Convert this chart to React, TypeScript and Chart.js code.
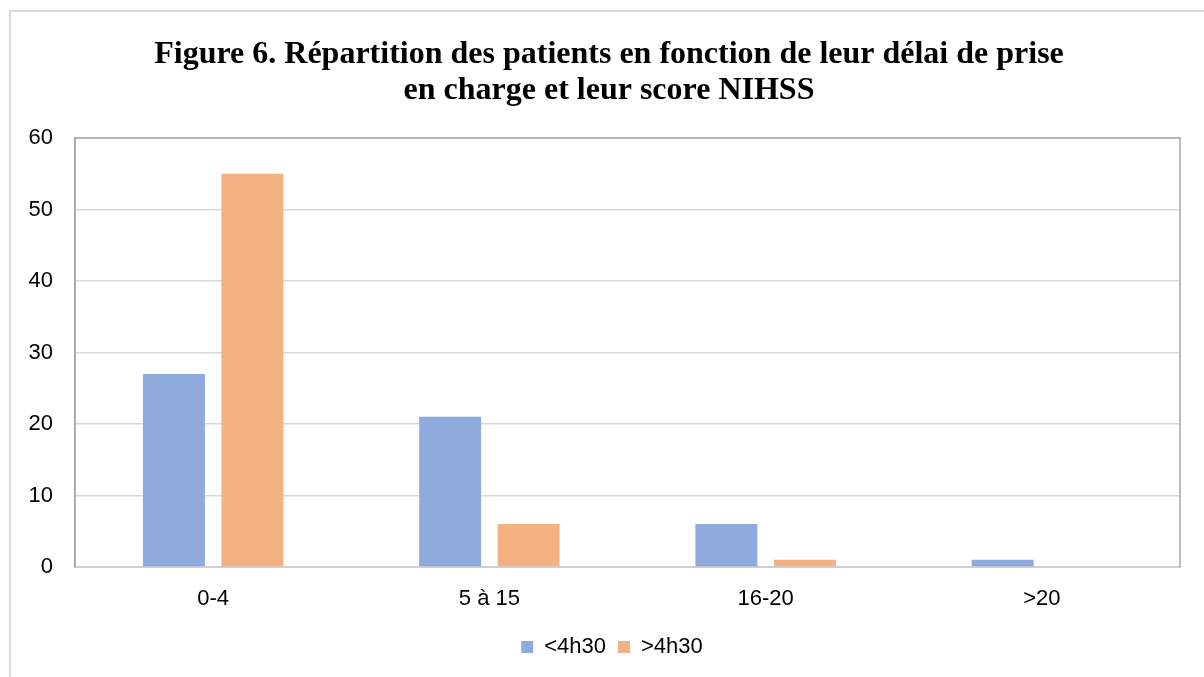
import React, { useEffect, useRef } from "react";
import { Chart, registerables } from "chart.js";

Chart.register(...registerables);

const titleLines = [
  "Figure 6. Répartition des patients en fonction de leur délai de prise",
  "en charge et leur score NIHSS",
];
const categories = ["0-4", "5 à 15", "16-20", ">20"];
const seriesNames = ["<4h30", ">4h30"];
const below4h30 = [27, 21, 6, 1];
const above4h30 = [55, 6, 1, 0];
const yMin = 0;
const yMax = 60;
const yStep = 10;

const frameAndBorder = {
  id: "frameAndBorder",
  afterLayout(chart: any) {
    const lg = chart.legend;
    if (lg) {
      lg.left += 22;
      lg.right += 22;
    }
  },
  beforeDraw(chart: any) {
    const ctx = chart.ctx;
    ctx.save();
    ctx.fillStyle = "#ffffff";
    ctx.fillRect(0, 0, chart.width, chart.height);
    ctx.strokeStyle = "#D9D9D9";
    ctx.lineWidth = 2;
    ctx.strokeRect(10, 11, chart.width + 20, chart.height + 20);
    ctx.restore();
  },
  afterDatasetsDraw(chart: any) {
    const { ctx, chartArea } = chart;
    ctx.save();
    ctx.strokeStyle = "#A6A6A6";
    ctx.lineWidth = 1.5;
    ctx.beginPath();
    ctx.moveTo(chartArea.left, chartArea.top);
    ctx.lineTo(chartArea.right, chartArea.top);
    ctx.lineTo(chartArea.right, chartArea.bottom);
    ctx.moveTo(chartArea.left, chartArea.top);
    ctx.lineTo(chartArea.left, chartArea.bottom);
    ctx.stroke();
    ctx.restore();
  },
  afterDraw(chart: any) {
    const ctx = chart.ctx;
    ctx.save();
    ctx.fillStyle = "#000000";
    ctx.font = "bold 32px 'Liberation Serif', 'Times New Roman', serif";
    ctx.textAlign = "center";
    ctx.textBaseline = "middle";
    titleLines.forEach((line, i) => {
      ctx.fillText(line, 609, 55 + i * 36);
    });
    ctx.restore();
  },
};

export default function App() {
  const ref = useRef<HTMLCanvasElement>(null);
  useEffect(() => {
    if (!ref.current) return;
    const chart = new Chart(ref.current, {
      type: "bar",
      data: {
        labels: categories,
        datasets: [
          {
            label: seriesNames[0],
            data: below4h30,
            backgroundColor: "#8FAADC",
            categoryPercentage: 0.568,
            barPercentage: 0.79,
          },
          {
            label: seriesNames[1],
            data: above4h30,
            backgroundColor: "#F4B183",
            categoryPercentage: 0.568,
            barPercentage: 0.79,
          },
        ],
      },
      options: {
        animation: false,
        responsive: false,
        maintainAspectRatio: false,
        layout: { padding: { left: 0, right: 24, top: 138, bottom: 9 } },
        plugins: {
          title: { display: false },
          legend: {
            display: true,
            position: "bottom",
            labels: {
              boxWidth: 12,
              boxHeight: 12,
              padding: 12,
              color: "#000000",
              font: { family: "'Liberation Sans', Arial, sans-serif", size: 22 },
            },
          },
          tooltip: { enabled: false },
        },
        scales: {
          x: {
            grid: { display: false, drawTicks: false },
            border: { display: true, color: "#D0D0D0", width: 2 },
            ticks: {
              color: "#000000",
              padding: 19,
              font: { family: "'Liberation Sans', Arial, sans-serif", size: 22 },
            },
            afterFit(scale: any) {
              scale.height = 57;
            },
          },
          y: {
            min: yMin,
            max: yMax,
            grid: { color: "#D9D9D9", lineWidth: 1.5, drawTicks: false },
            border: { display: true, color: "#A6A6A6", width: 1.5 },
            ticks: {
              stepSize: yStep,
              color: "#000000",
              padding: 22,
              font: { family: "'Liberation Sans', Arial, sans-serif", size: 22 },
            },
            afterFit(scale: any) {
              scale.width = 75;
            },
          },
        },
      },
      plugins: [frameAndBorder],
    });
    return () => chart.destroy();
  }, []);
  return (
    <div style={{ position: "absolute", left: 0, top: 0, width: 1204, height: 677 }}>
      <canvas ref={ref} width={1204} height={677} style={{ display: "block" }} />
    </div>
  );
}
